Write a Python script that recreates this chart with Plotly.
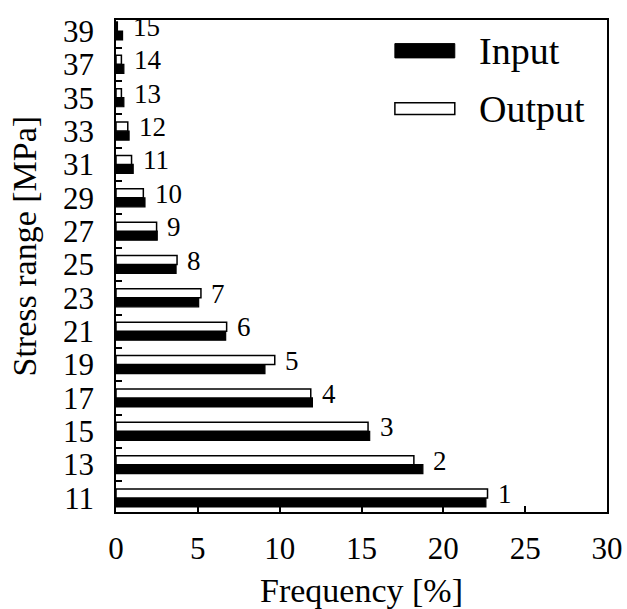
import plotly.graph_objects as go

stress = [11, 13, 15, 17, 19, 21, 23, 25, 27, 29, 31, 33, 35, 37, 39]
input_vals = [22.6, 18.75, 15.5, 12.0, 9.1, 6.7, 5.05, 3.67, 2.52, 1.77, 1.05, 0.8, 0.48, 0.48, 0.4]
output_vals = [22.7, 18.2, 15.4, 11.9, 9.7, 6.76, 5.19, 3.73, 2.48, 1.67, 0.95, 0.72, 0.33, 0.33, 0.08]
labels = [str(i) for i in range(1, 16)]
cats = [str(s) for s in stress]

FONT = "Liberation Serif, Times New Roman, serif"

fig = go.Figure()
fig.add_trace(go.Bar(
    y=cats, x=input_vals, orientation="h", name="Input",
    marker=dict(color="black", line=dict(color="black", width=1.2)),
    showlegend=False,
))
fig.add_trace(go.Bar(
    y=cats, x=output_vals, orientation="h", name="Output",
    marker=dict(color="white", line=dict(color="black", width=1.5)),
    showlegend=False,
))

for i, (a, b, t) in enumerate(zip(input_vals, output_vals, labels)):
    fig.add_annotation(x=max(a, b), y=i, text=t, showarrow=False,
                       xanchor="left", yanchor="middle", xshift=8, yshift=4,
                       font=dict(family=FONT, size=27, color="black"))

# custom legend
fig.add_shape(type="rect", xref="paper", yref="paper",
              x0=0.568, x1=0.690, y0=0.923, y1=0.952,
              fillcolor="black", line=dict(color="black", width=1))
fig.add_shape(type="rect", xref="paper", yref="paper",
              x0=0.568, x1=0.690, y0=0.808, y1=0.832,
              fillcolor="white", line=dict(color="black", width=1.5))
fig.add_annotation(xref="paper", yref="paper", x=0.735, y=0.938, text="Input",
                   showarrow=False, xanchor="left", yanchor="middle",
                   font=dict(family=FONT, size=38, color="black"))
fig.add_annotation(xref="paper", yref="paper", x=0.735, y=0.820, text="Output",
                   showarrow=False, xanchor="left", yanchor="middle",
                   font=dict(family=FONT, size=38, color="black"))

# y-axis title placed as in the reference
fig.add_annotation(xref="paper", yref="paper", x=-0.186, y=0.541,
                   text="Stress range [MPa]", textangle=-90, showarrow=False,
                   xanchor="center", yanchor="middle",
                   font=dict(family=FONT, size=34, color="black"))

fig.update_layout(
    width=627, height=609,
    margin=dict(l=116, r=20, t=20, b=97),
    plot_bgcolor="white", paper_bgcolor="white",
    barmode="group", bargap=0.46, bargroupgap=0.0,
    font=dict(family=FONT, color="black"),
)
fig.update_xaxes(
    range=[0, 30], tickvals=[0, 5, 10, 15, 20, 25, 30],
    automargin=False, ticklabeloverflow="allow",
    ticks="inside", ticklen=6, tickwidth=1.5, tickcolor="black",
    showline=True, linecolor="black", linewidth=1.5, mirror=True,
    showgrid=False, zeroline=False,
    tickfont=dict(family=FONT, size=31, color="black"),
    ticklabelstandoff=8,
    title=dict(text="Frequency [%]", font=dict(family=FONT, size=34, color="black"), standoff=19),
)
fig.update_yaxes(
    type="category", categoryorder="array", categoryarray=cats,
    tickmode="array", tickvals=cats, ticktext=cats,
    range=[-0.42, 14.33],
    automargin=False, ticklabeloverflow="allow",
    ticks="inside", tickson="boundaries", ticklen=6, tickwidth=1.5, tickcolor="black",
    showline=True, linecolor="black", linewidth=1.5, mirror=True,
    showgrid=False, zeroline=False,
    tickfont=dict(family=FONT, size=31, color="black"),
    ticklabelstandoff=14,
)

fig.write_html("out.html", config={"displayModeBar": False},
               post_script="document.body.style.margin='0';")
